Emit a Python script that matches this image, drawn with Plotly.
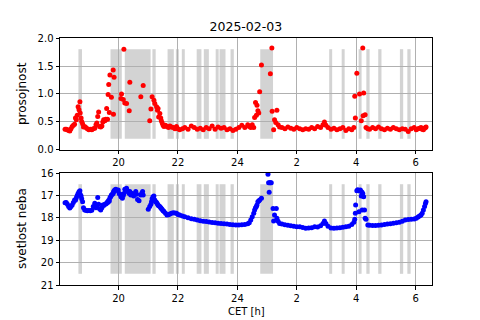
import plotly.graph_objects as go

# time in hours (continuous, 24+ = after midnight)
hours = [
    18.20, 18.24, 18.28, 18.32, 18.36, 18.40, 18.44, 18.48, 18.52, 18.55, 18.58, 18.61,
    18.64, 18.67, 18.70, 18.71, 18.74, 18.76, 18.79, 18.82, 18.86, 18.90, 18.95, 19.00,
    19.05, 19.10, 19.15, 19.20, 19.24, 19.27, 19.30, 19.33, 19.36, 19.40, 19.44, 19.47, 19.50, 19.54, 19.57,
    19.60, 19.63, 19.65, 19.67, 19.69, 19.71, 19.74, 19.76, 19.79, 19.82, 19.83, 19.85,
    19.88, 19.91, 19.95, 19.99, 20.02, 20.05, 20.08, 20.10, 20.13, 20.16, 20.18, 20.21,
    20.24, 20.27, 20.30, 20.33, 20.36, 20.38, 20.41, 20.44, 20.47, 20.51, 20.55, 20.58,
    20.61, 20.64, 20.69, 20.75, 20.78, 20.81, 20.83, 21.00, 21.05, 21.09, 21.11, 21.13,
    21.16, 21.19, 21.22, 21.25, 21.28, 21.31, 21.33, 21.35, 21.39, 21.42, 21.44, 21.47, 21.50, 21.53,
    21.58, 21.63, 21.68, 21.73, 21.78, 21.84, 21.90, 21.95, 22.00, 22.06, 22.15, 22.23, 22.34, 22.45,
    22.55, 22.65, 22.75, 22.85, 22.95, 23.05, 23.15, 23.25, 23.35, 23.45, 23.55, 23.65, 23.75, 23.85,
    23.95, 24.05, 24.15, 24.25, 24.35, 24.40, 24.45, 24.50, 24.55, 24.58, 24.61, 24.64,
    24.66, 24.69, 24.72, 24.75, 24.81, 25.03, 25.05, 25.07, 25.09, 25.11, 25.14, 25.16,
    25.17, 25.20, 25.22, 25.25, 25.29, 25.31, 25.33, 25.37, 25.42, 25.50,
    25.60, 25.70, 25.80, 25.90, 26.00, 26.10, 26.20, 26.30, 26.40, 26.50, 26.60, 26.70, 26.80, 26.88,
    26.93, 26.98, 27.05, 27.15, 27.25, 27.35, 27.45, 27.55, 27.65, 27.75, 27.85, 27.92,
    27.95, 27.97, 27.98, 28.02, 28.05, 28.09, 28.11, 28.14, 28.17, 28.19, 28.20, 28.22, 28.23, 28.25, 28.28, 28.30, 28.33, 28.39,
    28.45, 28.55, 28.65, 28.75, 28.85, 28.95, 29.05, 29.15, 29.25, 29.35, 29.45, 29.55, 29.65, 29.75,
    29.85, 29.95, 30.02, 30.08, 30.13, 30.18, 30.22, 30.26, 30.30, 30.33, 30.35,
]

prosojnost = [
    0.37, 0.37, 0.36, 0.35, 0.34, 0.38, 0.42, 0.44, 0.46, 0.57, 0.54, 0.62,
    0.77, 0.72, 0.86, 0.66, 0.57, 0.51, 0.47, 0.41, 0.42, 0.40, 0.38, 0.36,
    0.37, 0.36, 0.38, 0.39, 0.45, 0.48, 0.60, 0.68, 0.42, 0.41, 0.43, 0.50, 0.54, 0.52, 0.55,
    0.74, 0.55, 0.99, 1.17, 0.67, 1.34, None, 0.94, None, 1.43, 0.64, 1.30,
    None, None, None, None, None, None, 0.92, 1.00, None, 0.90, 1.80, 0.84,
    None, 0.83, None, None, 0.70, 1.21, None, None, None, None, None, None,
    None, None, None, 0.95, None, None, 1.15, None, 0.52, 0.73, None, 0.95,
    None, 0.89, 0.83, None, 0.77, 0.71, 0.74, 0.59, 0.65, 0.57, 0.52, 0.48, 0.44, 0.42,
    0.44, 0.42, 0.40, 0.43, 0.41, 0.40, 0.38, 0.42, 0.38, 0.36, 0.38, 0.40, 0.37, 0.43,
    0.40, 0.37, 0.39, 0.36, 0.40, 0.38, 0.43, 0.37, 0.41, 0.39, 0.40, 0.36, 0.38, 0.35,
    0.37, 0.40, 0.44, 0.40, 0.45, 0.42, 0.40, 0.45, 0.40, 0.58, 0.85, 0.62,
    0.80, 0.70, 0.66, 1.04, 1.52, None, None, None, None, 1.36, None, 1.82,
    0.69, None, 0.36, 0.54, 0.49, None, 0.71, 0.45, 0.41, 0.40,
    0.38, 0.41, 0.39, 0.37, 0.40, 0.38, 0.36, 0.38, 0.37, 0.40, 0.38, 0.42, 0.40, 0.45,
    0.50, 0.44, 0.40, 0.37, 0.39, 0.36, 0.38, 0.40, 0.35, 0.38, 0.36, 0.40,
    0.96, 0.57, None, 1.37, None, None, 1.00, None, 0.52, None, None, 1.82, 0.61, 1.02, None, 0.63, 0.40, 0.38,
    0.37, 0.40, 0.38, 0.41, 0.38, 0.36, 0.39, 0.37, 0.40, 0.38, 0.36, 0.38, 0.37, 0.33,
    0.38, 0.40, 0.36, 0.38, 0.39, 0.40, 0.37, 0.36, 0.39, 0.40, 0.41,
]

svetlost = [
    17.33, 17.32, 17.40, 17.50, 17.56, 17.50, 17.43, 17.32, 17.21, 17.22, 17.10, 17.00,
    16.91, 16.84, 16.79, 16.95, 17.03, 17.15, 17.28, 17.55, 17.65, 17.66, 17.68, 17.67,
    17.68, 17.66, 17.50, 17.35, 17.55, 17.45, 17.09, 17.40, 17.60, 17.65, 17.55, 17.43, 17.45, 17.40, 17.38,
    17.35, 17.28, 17.30, 17.22, 17.25, 17.10, 17.05, 16.98, 16.95, 16.91, 16.85, 16.79,
    16.75, 16.73, 16.78, 16.76, 16.91, 16.95, 17.06, 16.98, 17.13, 17.00, 16.91, 16.73,
    16.75, 16.68, 16.79, 16.85, 16.91, 16.83, 16.98, 16.95, 16.91, 17.03, 16.95, 16.83,
    16.95, 17.18, 17.24, 16.98, 16.90, 16.83, 16.98, 17.62, 17.50, 17.40, 17.28, 17.15,
    17.06, 17.03, 17.21, 17.28, 17.32, 17.38, 17.43, 17.46, 17.50, 17.55, 17.58, 17.63, 17.68, 17.72,
    17.80, 17.88, 17.86, 17.83, 17.80, 17.77, 17.79, 17.80, 17.85, 17.88, 17.92, 17.95, 18.00, 18.04,
    18.07, 18.10, 18.13, 18.15, 18.17, 18.19, 18.21, 18.22, 18.24, 18.25, 18.27, 18.28, 18.30, 18.31,
    18.32, 18.32, 18.31, 18.30, 18.27, 18.22, 18.10, 17.95, 17.80, 17.65, 17.55, 17.50,
    17.43, 17.28, 17.25, 17.21, 17.13, 16.06, 16.43, 16.86, 16.43, 16.43, 16.43, None,
    None, 17.58, 18.14, 17.88, None, 17.58, 18.02, 18.15, 18.25, 18.28,
    18.31, 18.33, 18.36, 18.38, 18.40, 18.40, 18.43, 18.47, 18.45, 18.44, 18.40, 18.41, 18.36, 18.25,
    18.14, 18.25, 18.38, 18.45, 18.47, 18.45, 18.44, 18.42, 18.40, 18.38, 18.30, 18.20,
    18.07, 17.80, 17.43, 16.79, 16.75, 17.73, 16.80, 16.76, 17.03, 16.85, 17.65, 16.92, None, 17.06, 17.65, 18.02, 18.07, 18.32,
    18.33, 18.34, 18.34, 18.33, 18.32, 18.30, 18.28, 18.26, 18.24, 18.22, 18.20, 18.15, 18.10, 18.08,
    18.07, 18.05, 18.02, 17.96, 17.92, 17.88, 17.80, 17.65, 17.50, 17.36, 17.28,
]

# cloudy intervals (grey bands)
band_start = [18.65, 19.73, 20.21, 21.14, 21.65, 21.93, 22.13, 22.63, 22.87, 23.27,
              23.40, 23.77, 24.77, 27.09, 27.51, 28.08, 28.34, 28.74, 29.47, 29.72]
band_end = [18.77, 20.11, 21.08, 21.25, 21.86, 22.03, 22.23, 22.79, 23.04, 23.37,
            23.60, 23.88, 25.20, 27.19, 27.61, 28.18, 28.45, 28.85, 29.58, 29.83]

tick_vals = [20, 22, 24, 26, 28, 30]
tick_text = ["20", "22", "24", "2", "4", "6"]
y1_ticks = [0.0, 0.5, 1.0, 1.5, 2.0]
y2_ticks = [16, 17, 18, 19, 20, 21]

fig = go.Figure()
fig.add_trace(go.Scatter(x=hours, y=prosojnost, mode="markers",
                         marker=dict(color="red", size=5), xaxis="x", yaxis="y",
                         showlegend=False))
fig.add_trace(go.Scatter(x=hours, y=svetlost, mode="markers",
                         marker=dict(color="blue", size=5), xaxis="x2", yaxis="y2",
                         showlegend=False))

shapes = []
for a, b in zip(band_start, band_end):
    for xr, yr in (("x", "y domain"), ("x2", "y2 domain")):
        shapes.append(dict(type="rect", xref=xr, yref=yr, x0=a, x1=b, y0=0.1, y1=0.9,
                           fillcolor="lightgray", line=dict(width=0), layer="below"))

axis_common = dict(showline=True, mirror=True, linecolor="black", linewidth=1,
                   ticks="outside", ticklen=3.5, tickcolor="black", showgrid=True,
                   gridcolor="#b0b0b0", gridwidth=0.8, zeroline=False, automargin=False,
                   tickfont=dict(size=10, color="black"))

annotations = [
    dict(text="prosojnost", xref="paper", yref="y domain", x=-0.102, y=0.5,
         textangle=-90, showarrow=False, xanchor="center", yanchor="middle",
         font=dict(size=12)),
    dict(text="svetlost neba", xref="paper", yref="y2 domain", x=-0.102, y=0.5,
         textangle=-90, showarrow=False, xanchor="center", yanchor="middle",
         font=dict(size=12)),
    dict(text="CET [h]", xref="paper", yref="paper", x=0.5, y=-0.109,
         showarrow=False, xanchor="center", yanchor="middle", font=dict(size=10)),
]

# the page body adds an 8 px offset, so the figure is 8 px smaller each way
fig.update_layout(
    width=472, height=312,
    margin=dict(l=52, r=48, t=30, b=35),
    paper_bgcolor="white", plot_bgcolor="white",
    font=dict(family="DejaVu Sans", color="black"),
    title=dict(text="2025-02-03", x=0.504, xanchor="center", y=0.939, yanchor="middle",
               font=dict(size=12.5)),
    shapes=shapes,
    annotations=annotations,
    xaxis=dict(domain=[0, 1], anchor="y", range=[18.03, 30.55],
               tickvals=tick_vals, ticktext=tick_text, **axis_common),
    yaxis=dict(domain=[0.5466, 1], anchor="x", range=[0, 2.0],
               tickvals=y1_ticks, tickformat=".1f", **axis_common),
    xaxis2=dict(domain=[0, 1], anchor="y2", range=[18.03, 30.55],
                tickvals=tick_vals, ticktext=tick_text, **axis_common),
    yaxis2=dict(domain=[0, 0.4534], anchor="x2", range=[21, 16],
                tickvals=y2_ticks, **axis_common),
)

fig.write_html("out.html")
